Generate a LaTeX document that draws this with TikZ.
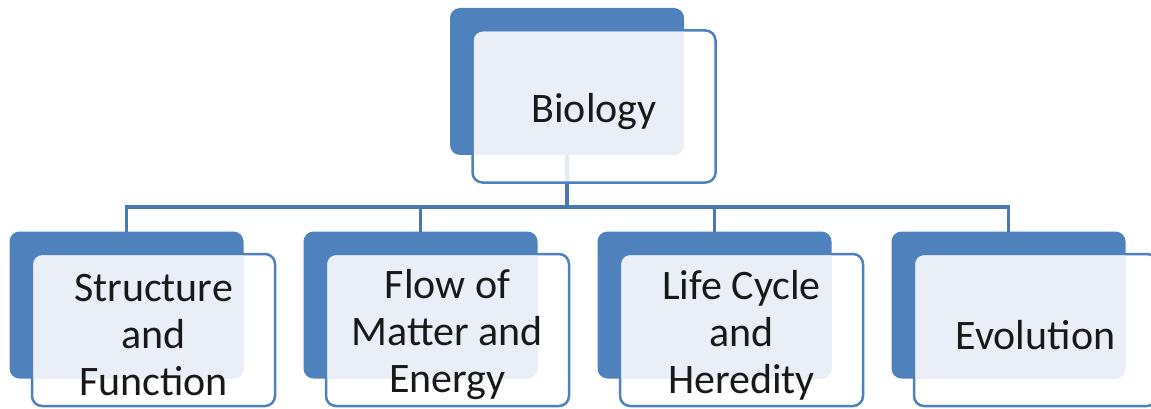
\documentclass[tikz,border=0pt]{standalone}
\usepackage{fontspec}
\setmainfont{Carlito}
\usepackage{tikz}
\usetikzlibrary{calc}
\definecolor{boxblue}{HTML}{4F81BD}
\definecolor{lineblue}{HTML}{4A78B4}
\definecolor{paleblue}{HTML}{EAEFF7}

\begin{document}
\begin{tikzpicture}[
    x = 1pt, y = 1pt,
    backbox/.style = {fill=boxblue, rounded corners=10pt, minimum width=234pt,
        minimum height=147pt, inner sep=0pt, outer sep=0pt},
    frontbox/.style = {draw=boxblue, line width=2.5pt, fill=white, fill opacity=0.85,
        rounded corners=10pt, minimum width=243pt, minimum height=152pt,
        inner sep=0pt, outer sep=0pt},
    link/.style = {draw=lineblue, line width=3.5pt},
    label/.style = {align=center, text=black!90, yshift=-5pt,
        font=\fontsize{42}{47}\selectfont}
  ]
  \useasboundingbox (0,0) rectangle (1151,-409);

  \node[backbox] (backroot) at (567,-81.5) {};
  \foreach \x [count=\j] in {126.5, 420.5, 714.5, 1008.5}
  \node[backbox] (back\j) at (\x,-305) {};

  \coordinate (bus) at (567,-207);
  \foreach \j in {1,...,4}
  \draw[link] (backroot.south) -- (bus) -| (back\j.north);

  \foreach \n in {root, 1, 2, 3, 4}
  {
    \node[frontbox] (front\n) at ($(back\n)+(27,-25)$) {};
    \begin{scope}
      \clip[rounded corners=9pt] ($(front\n.south west)+(1.25,1.25)$)
        rectangle ($(front\n.north east)-(1.25,1.25)$);
      \fill[paleblue, rounded corners=10pt] (back\n.south west) rectangle (back\n.north east);
    \end{scope}
  }

  \foreach \n/\t in {root/Biology, 1/{Structure\\and\\Function},
      2/{Flow of\\Matter and\\Energy}, 3/{Life Cycle\\and\\Heredity}, 4/Evolution}
  \node[label] (text\n) at (front\n) {\t};
\end{tikzpicture}
\end{document}
